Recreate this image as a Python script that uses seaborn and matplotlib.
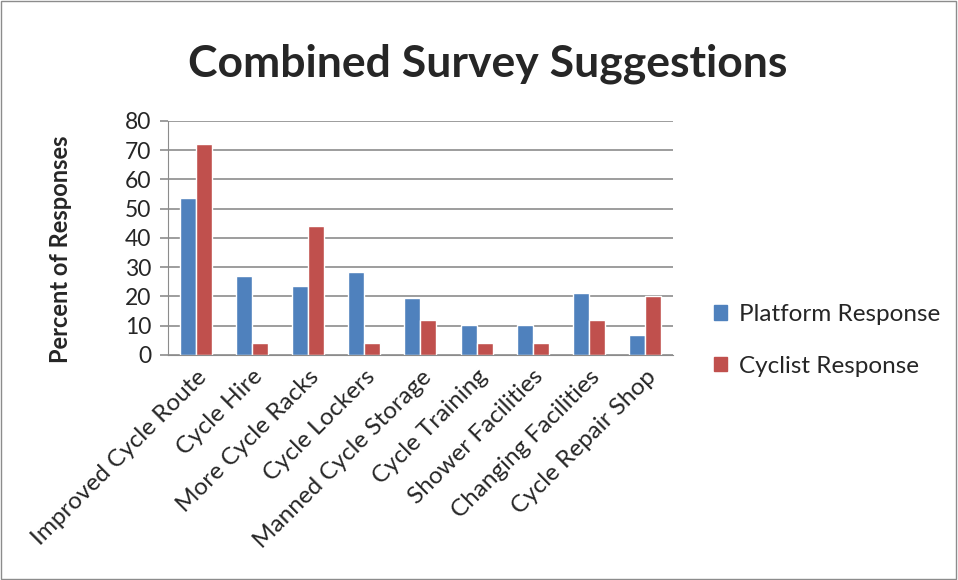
import pandas as pd
import seaborn as sns
import matplotlib.pyplot as plt
from matplotlib.patches import Patch, Rectangle

categories = ['Improved Cycle Route', 'Cycle Hire', 'More Cycle Racks', 'Cycle Lockers',
              'Manned Cycle Storage', 'Cycle Training', 'Shower Facilities',
              'Changing Facilities', 'Cycle Repair Shop']
platform = [53.6, 26.9, 23.5, 28.3, 19.4, 10.3, 10.3, 21.3, 6.8]
cyclist = [72, 4, 44, 4, 12, 4, 4, 12, 20]
series = ['Platform Response', 'Cyclist Response']
colors = ['#4F81BD', '#C0504D']

df = pd.DataFrame({'Suggestion': categories * 2,
                   'Percent': platform + cyclist,
                   'Series': [series[0]] * 9 + [series[1]] * 9})

sns.set_style('white')
plt.rcParams['font.family'] = ['Lato', 'DejaVu Sans']

fig = plt.figure(figsize=(9.58, 5.80), dpi=100)
ax = fig.add_axes([0.1754, 0.388, 0.527, 0.4034])

sns.barplot(data=df, x='Suggestion', y='Percent', hue='Series', palette=colors,
            width=0.57, saturation=1, ax=ax, legend=False)

ax.set_ylim(0, 80)
ax.set_xlim(-0.5, 8.5)
ax.set_yticks(range(0, 81, 10))
ax.yaxis.grid(True, color='#8c8c8c', linewidth=1.2)
ax.set_axisbelow(True)
for s in ['top', 'right']:
    ax.spines[s].set_visible(False)
ax.spines['left'].set_color('#8c8c8c')
ax.spines['bottom'].set_color('#8c8c8c')

ax.set_xticks(range(9))
ax.set_xticklabels(categories, rotation=45, ha='right', rotation_mode='anchor', fontsize=17.5)
ax.tick_params(axis='x', length=0, pad=8)
ax.set_xticks([i - 0.5 for i in range(10)], minor=True)
ax.tick_params(axis='x', which='minor', length=6, color='#8c8c8c', width=1.2)
ax.tick_params(axis='y', length=6, color='#8c8c8c', width=1.2, labelsize=16.5, direction='out',
               left=True, pad=6)
ax.set_xlabel('')
ax.set_ylabel('Percent of Responses', fontsize=17, fontweight='bold')
ax.yaxis.set_label_coords(-0.19, 0.45)

fig.suptitle('Combined Survey Suggestions', fontsize=32, fontweight='bold',
             x=0.509, y=0.89, va='center')

handles = [Patch(color=c) for c in colors]
fig.legend(handles, series, loc='center left', bbox_to_anchor=(0.722, 0.413),
           frameon=False, fontsize=17.5, handlelength=0.55, handleheight=0.55,
           handletextpad=0.5, labelspacing=1.25)

fig.patches.append(Rectangle((0.001, 0.002), 0.997, 0.996, transform=fig.transFigure,
                             fill=False, edgecolor='#8c8c8c', linewidth=1))

plt.savefig('out.png', dpi=100)
